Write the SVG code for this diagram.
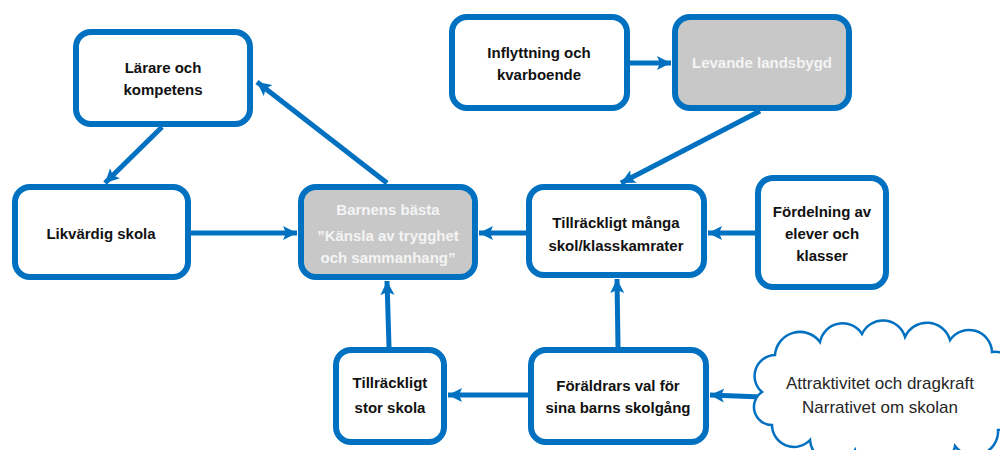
<svg xmlns="http://www.w3.org/2000/svg" width="1000" height="450" viewBox="0 0 1000 450">
<style>
.box{fill:#ffffff;stroke:#0070C0;stroke-width:6}
.gray{fill:#C8C8C8;stroke:#0070C0;stroke-width:6}
.t{font-family:"Liberation Sans",Arial,sans-serif;font-weight:bold;font-size:15px;fill:#111111;text-anchor:middle}
.w{fill:#F4F4F4}
.c{font-family:"Liberation Sans",Arial,sans-serif;font-size:17px;fill:#262626;text-anchor:middle}
.con{stroke:#0070C0;stroke-width:5;fill:none;marker-end:url(#ah)}
</style>
<defs>
<marker id="ah" markerUnits="userSpaceOnUse" markerWidth="16" markerHeight="16" refX="14" refY="8" orient="auto">
<path d="M0,1 L14,8 L0,15 L3,8 Z" fill="#0070C0"/>
</marker>
</defs>
<rect width="1000" height="450" fill="#ffffff"/>
<g id="connectors">
<line class="con" x1="387" y1="183" x2="257" y2="82"/>
<line class="con" x1="162" y1="127" x2="105" y2="183"/>
<line class="con" x1="191" y1="233" x2="297" y2="233"/>
<line class="con" x1="526" y1="233" x2="479" y2="233"/>
<line class="con" x1="755" y1="233" x2="708" y2="233"/>
<line class="con" x1="630" y1="63" x2="671" y2="63"/>
<line class="con" x1="760" y1="111" x2="621" y2="183"/>
<line class="con" x1="618" y1="347" x2="617" y2="279"/>
<line class="con" x1="389" y1="347" x2="387" y2="281"/>
<line class="con" x1="528" y1="395" x2="448" y2="395"/>
<line class="con" x1="762" y1="397" x2="710" y2="395"/>
</g>
<g id="n-larare"><rect class="box" x="76" y="32" width="174" height="92" rx="15"/>
<text class="t" x="163" y="73">Lärare och</text><text class="t" x="163" y="95">kompetens</text></g>
<g id="n-likvardig"><rect class="box" x="15" y="187" width="173" height="90" rx="15"/>
<text class="t" x="101" y="239">Likvärdig skola</text></g>
<g id="n-barnens"><rect class="gray" x="301" y="187" width="174" height="90" rx="15"/>
<text class="t w" x="388" y="215">Barnens bästa</text><text class="t w" x="388" y="241">”Känsla av trygghet</text><text class="t w" x="388" y="263">och sammanhang”</text></g>
<g id="n-inflyttning"><rect class="box" x="452" y="17" width="175" height="91" rx="15"/>
<text class="t" x="539" y="58">Inflyttning och</text><text class="t" x="539" y="80">kvarboende</text></g>
<g id="n-levande"><rect class="gray" x="675" y="17" width="174" height="91" rx="15"/>
<text class="t w" x="762" y="68">Levande landsbygd</text></g>
<g id="n-mangakamrater"><rect class="box" x="529" y="187" width="175" height="88" rx="15"/>
<text class="t" x="616" y="228">Tillräckligt många</text><text class="t" x="616" y="251">skol/klasskamrater</text></g>
<g id="n-fordelning"><rect class="box" x="758" y="178" width="128" height="109" rx="15"/>
<text class="t" x="822" y="217">Fördelning av</text><text class="t" x="822" y="239">elever och</text><text class="t" x="822" y="261">klasser</text></g>
<g id="n-storskola"><rect class="box" x="336" y="350" width="108" height="92" rx="15"/>
<text class="t" x="390" y="388">Tillräckligt</text><text class="t" x="390" y="413">stor skola</text></g>
<g id="n-foraldrar"><rect class="box" x="531" y="350" width="175" height="92" rx="15"/>
<text class="t" x="618" y="391">Föräldrars val för</text><text class="t" x="618" y="413">sina barns skolgång</text></g>
<g id="n-cloud">
<path d="M762,392 A21,21 0 0 1 775,355 A25,25 0 0 1 820,342 A23,23 0 0 1 862,334 A23,23 0 0 1 905,337 A24,24 0 0 1 950,340 A23,23 0 0 1 992,352 A22,22 0 0 1 1010,390 A22,22 0 0 1 998,430 A24,24 0 0 1 955,446 A27,27 0 0 1 905,455 A27,27 0 0 1 855,450 A24,24 0 0 1 810,440 A22,22 0 0 1 772,425 A18,18 0 0 1 762,392 Z" fill="#ffffff" stroke="#0070C0" stroke-width="2.5"/>
<text class="c" x="880" y="389">Attraktivitet och dragkraft</text>
<text class="c" x="880" y="413">Narrativet om skolan</text>
</g>
</svg>
